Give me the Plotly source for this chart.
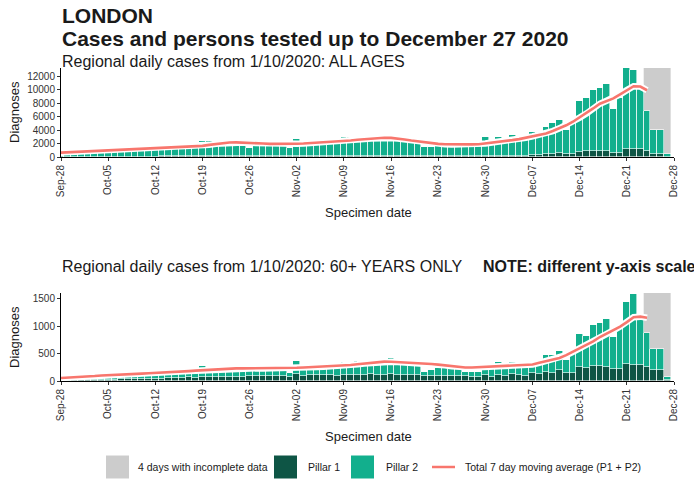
import plotly.graph_objects as go
import pandas as pd

W, H = 694, 483

# ---------------- data ----------------
dates = pd.date_range('2020-09-28', '2020-12-27', freq='D')

all_total = [100, 250, 400, 550, 650, 700, 650,
             900, 1000, 1100, 1150, 1200, 1150, 1050,
             1250, 1300, 1350, 1400, 1450, 1400, 1300,
             2300, 2350, 2000, 2100, 2150, 2050, 1900,
             1300, 2100, 2050, 2000, 1950, 1800, 1300,
             2700, 2000, 2050, 2100, 2150, 2100, 1900,
             3000, 2950, 2600, 2700, 2900, 3000, 2800,
             3000, 2900, 2800, 2600, 2500, 1500, 1450,
             2100, 2050, 2000, 1950, 1950, 1900, 1700,
             2900, 2100, 3000, 2300, 3200, 2600, 2700,
             3650, 3650, 4400, 5000, 5480, 4000, 5480,
             8340, 8790, 9930, 10170, 10770, 7060, 8790,
             13140, 12890, 10030, 6860, 4000, 4000, 400]

all_p1 = [10, 20, 30, 35, 40, 45, 40,
          50, 55, 60, 60, 65, 60, 55,
          70, 75, 80, 85, 90, 90, 80,
          100, 105, 110, 115, 120, 115, 100,
          110, 120, 125, 125, 120, 110, 90,
          150, 130, 135, 140, 140, 130, 110,
          140, 145, 150, 150, 155, 150, 140,
          150, 150, 145, 140, 135, 110, 100,
          130, 130, 125, 120, 115, 100, 95,
          150, 160, 200, 200, 220, 200, 200,
          300, 330, 450, 500, 550, 400, 450,
          800, 850, 900, 900, 850, 600, 650,
          1150, 1200, 1150, 850, 450, 450, 60]

all_avg = [650, 700, 750, 800, 850, 900, 950,
           1000, 1050, 1100, 1150, 1200, 1230, 1260,
           1290, 1320, 1350, 1400, 1450, 1500, 1550,
           1650, 1800, 1950, 2050, 2150, 2170, 2150,
           2100, 2050, 2000, 1950, 1930, 1930, 1940,
           1960, 2000, 2050, 2100, 2150, 2200, 2250,
           2350, 2450, 2550, 2650, 2750, 2820, 2850,
           2830, 2750, 2600, 2450, 2300, 2150, 2050,
           1950, 1900, 1870, 1850, 1850, 1870, 1900,
           2000, 2150, 2250, 2350, 2500, 2650, 2850,
           3050, 3250, 3500, 3850, 4250, 4700, 5230,
           5850, 6450, 7200, 7900, 8350, 8700, 9300,
           9920, 10500, 10450, 9900]

old_total = [20, 40, 55, 70, 80, 90, 85,
             100, 110, 115, 120, 125, 130, 120,
             140, 145, 150, 160, 165, 170, 165,
             270, 190, 210, 220, 225, 230, 215,
             225, 230, 228, 225, 220, 200, 140,
             360, 245, 250, 255, 260, 255, 240,
             350, 350, 370, 300, 320, 330, 340,
             415, 340, 330, 320, 310, 160, 200,
             230, 230, 225, 220, 165, 160, 155,
             215, 210, 340, 215, 345, 235, 245,
             270, 312, 468, 468, 540, 378, 558,
             858, 816, 1020, 1056, 1128, 798, 948,
             1440, 1578, 1128, 876, 588, 588, 78]

old_p1 = [5, 8, 10, 12, 14, 15, 15,
          20, 25, 28, 30, 30, 32, 30,
          40, 45, 50, 55, 60, 65, 60,
          70, 72, 75, 78, 80, 80, 75,
          85, 85, 88, 90, 90, 85, 80,
          120, 100, 105, 108, 110, 105, 95,
          110, 112, 115, 118, 120, 118, 115,
          120, 118, 115, 112, 110, 90, 85,
          95, 92, 90, 88, 85, 78, 75,
          108, 78, 110, 100, 120, 105, 100,
          138, 130, 168, 138, 192, 138, 138,
          258, 228, 276, 276, 258, 216, 216,
          318, 300, 288, 258, 198, 198, 18]

old_avg = [55, 60, 68, 75, 82, 90, 100,
           108, 115, 120, 125, 130, 135, 140,
           145, 152, 158, 165, 172, 180, 188,
           195, 205, 215, 225, 230, 230, 230,
           230, 230, 228, 228, 228, 230, 232,
           240, 245, 250, 255, 260, 265, 270,
           280, 290, 305, 320, 335, 345, 352,
           350, 345, 340, 330, 322, 315, 308,
           298, 285, 270, 255, 245, 245, 250,
           255, 265, 270, 275, 280, 285, 290,
           300, 330, 360, 390, 420, 470, 530,
           590, 650, 720, 800, 860, 920, 990,
           1070, 1160, 1170, 1150]

incomplete_days = ['2020-12-24', '2020-12-25', '2020-12-26', '2020-12-27']
tick_dates = pd.date_range('2020-09-28', '2020-12-28', freq='7D')
tick_labels = ['Sep-28', 'Oct-05', 'Oct-12', 'Oct-19', 'Oct-26', 'Nov-02', 'Nov-09',
               'Nov-16', 'Nov-23', 'Nov-30', 'Dec-07', 'Dec-14', 'Dec-21', 'Dec-28']
top_yticks = [0, 2000, 4000, 6000, 8000, 10000, 12000]
bot_yticks = [0, 500, 1000, 1500]

# ---------------- style ----------------
FONT = 'Liberation Sans, Arial, sans-serif'
C_P1 = '#0E5545'
C_P2 = '#12AF8D'
C_GREY = '#CCCCCC'
C_RED = '#F8766D'
TXT = '#1a1a1a'


def px_x(p):
    return p / W


def px_y(p):
    return 1 - p / H


all_p2 = [t - p for t, p in zip(all_total, all_p1)]
old_p2 = [t - p for t, p in zip(old_total, old_p1)]

fig = go.Figure()

for (p1, p2, avg, xa, ya) in [(all_p1, all_p2, all_avg, 'x', 'y'),
                              (old_p1, old_p2, old_avg, 'x2', 'y2')]:
    fig.add_trace(go.Bar(x=dates, y=p1, marker=dict(color=C_P1, line=dict(color='white', width=0.6)),
                         xaxis=xa, yaxis=ya, showlegend=False, hoverinfo='skip'))
    fig.add_trace(go.Bar(x=dates, y=p2, marker=dict(color=C_P2, line=dict(color='white', width=0.6)),
                         xaxis=xa, yaxis=ya, showlegend=False, hoverinfo='skip'))
    fig.add_trace(go.Scatter(x=dates[:len(avg)], y=avg, mode='lines',
                             line=dict(color='white', width=6.5), xaxis=xa, yaxis=ya,
                             showlegend=False, hoverinfo='skip'))
    fig.add_trace(go.Scatter(x=dates[:len(avg)], y=avg, mode='lines',
                             line=dict(color=C_RED, width=2.6), xaxis=xa, yaxis=ya,
                             showlegend=False, hoverinfo='skip'))

inc = pd.to_datetime(incomplete_days)
half_day = pd.Timedelta(hours=12)
shapes = []
for xr, yr in [('x', 'y domain'), ('x2', 'y2 domain')]:
    shapes.append(dict(type='rect', xref=xr, yref=yr, x0=inc.min() - half_day, x1=inc.max() + half_day,
                       y0=0, y1=1, fillcolor=C_GREY, line=dict(width=0), layer='below'))

x_dom = [px_x(61), px_x(674)]
xaxis_common = dict(domain=x_dom, range=[dates[0], pd.Timestamp('2020-12-28')],
                    tickvals=tick_dates, ticktext=tick_labels, tickangle=-90,
                    ticks='outside', ticklen=3, tickcolor='#333333', tickwidth=1,
                    showline=True, linecolor='black', linewidth=1,
                    showgrid=False, zeroline=False, automargin=False,
                    tickfont=dict(family=FONT, size=10, color='#333333'))
yaxis_common = dict(ticks='outside', ticklen=3, tickcolor='#333333', tickwidth=1,
                    showline=True, linecolor='black', linewidth=1,
                    showgrid=False, zeroline=False, automargin=False,
                    tickfont=dict(family=FONT, size=10, color='#333333'))

fig.update_layout(
    width=W, height=H,
    margin=dict(l=0, r=0, t=0, b=0),
    paper_bgcolor='white', plot_bgcolor='white',
    barmode='stack', bargap=0,
    showlegend=False,
    xaxis=dict(anchor='y', **xaxis_common),
    xaxis2=dict(anchor='y2', **xaxis_common),
    yaxis=dict(anchor='x', domain=[px_y(157), px_y(68)], range=[0, 13200],
               tickvals=top_yticks, ticktext=[str(v) for v in top_yticks], **yaxis_common),
    yaxis2=dict(anchor='x2', domain=[px_y(381), px_y(293)], range=[0, 1600],
                tickvals=bot_yticks, ticktext=[str(v) for v in bot_yticks], **yaxis_common),
    shapes=shapes,
)

ann = []


def text(x, y, s, size, bold=False, xanchor='left', angle=0, color=TXT):
    ann.append(dict(x=px_x(x), y=px_y(y), xref='paper', yref='paper', text=('<b>%s</b>' % s) if bold else s,
                    showarrow=False, xanchor=xanchor, yanchor='middle', textangle=angle,
                    font=dict(family=FONT, size=size, color=color)))


text(60, 16, 'LONDON', 21, bold=True)
text(60, 38, 'Cases and persons tested up to December 27 2020', 21, bold=True)
text(60, 61, 'Regional daily cases from 1/10/2020: ALL AGES', 16)
text(60, 266, 'Regional daily cases from 1/10/2020: 60+ YEARS ONLY', 16)
text(481, 266, 'NOTE: different y-axis scale', 16, bold=True)
text(14, 112, 'Diagnoses', 13, xanchor='center', angle=-90)
text(14, 337, 'Diagnoses', 13, xanchor='center', angle=-90)
text(368, 212, 'Specimen date', 13, xanchor='center')
text(368, 436, 'Specimen date', 13, xanchor='center')

# legend (drawn manually)
LY = 467
legend_items = [('rect', C_GREY, 106, '4 days with incomplete data', 136),
                ('rect', C_P1, 274, 'Pillar 1', 306),
                ('rect', C_P2, 351, 'Pillar 2', 384),
                ('line', C_RED, 432, 'Total 7 day moving average (P1 + P2)', 463)]
for kind, col, x0, label, tx in legend_items:
    if kind == 'rect':
        fig.add_shape(type='rect', xref='paper', yref='paper', x0=px_x(x0), x1=px_x(x0 + 23),
                      y0=px_y(LY + 11.5), y1=px_y(LY - 11.5), fillcolor=col, line=dict(width=0))
    else:
        fig.add_shape(type='line', xref='paper', yref='paper', x0=px_x(x0), x1=px_x(x0 + 23),
                      y0=px_y(LY), y1=px_y(LY), line=dict(color=col, width=2.5))
    text(tx, LY, label, 10.5)

fig.update_layout(annotations=ann)
fig.write_html('out.html', config={'displayModeBar': False},
               post_script="document.body.style.margin='0px';")
